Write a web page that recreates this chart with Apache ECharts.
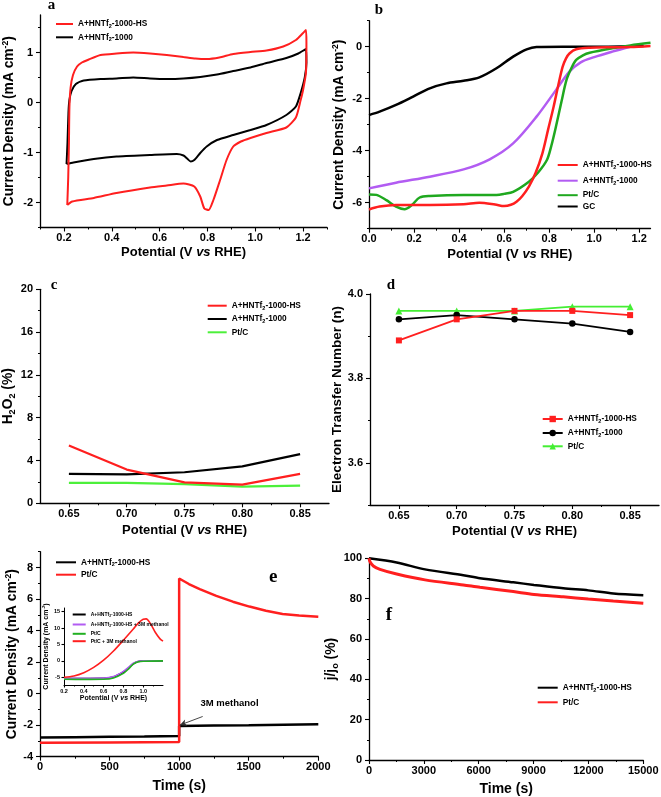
<!DOCTYPE html>
<html><head><meta charset="utf-8">
<script src="https://cdn.jsdelivr.net/npm/echarts@6/dist/echarts.min.js"></script>
<style>html,body{margin:0;padding:0;background:#fff}#c{width:661px;height:797px}</style>
</head><body><div id="c"></div>
<script>
// ---------------- DATA ----------------
// (a) cyclic voltammograms [potential, current density]
const cvHS = [[0.214,-2.05],[0.218,-1.5],[0.221,-0.8],[0.223,-0.1],[0.228,0.3],[0.238,0.55],[0.255,0.72],[0.275,0.8],[0.304,0.86],[0.353,0.95],[0.42,0.98],[0.49,1.0],[0.56,0.98],[0.63,0.95],[0.7,0.91],[0.75,0.88],[0.797,0.87],[0.85,0.9],[0.908,0.97],[0.98,1.01],[1.047,1.04],[1.117,1.12],[1.17,1.25],[1.2,1.39],[1.212,1.45],[1.214,1.2],[1.212,0.6],[1.2,0.25],[1.19,0.05],[1.17,-0.3],[1.13,-0.5],[1.047,-0.61],[0.98,-0.71],[0.94,-0.78],[0.908,-0.88],[0.88,-1.15],[0.853,-1.55],[0.825,-1.95],[0.805,-2.15],[0.787,-2.12],[0.77,-1.88],[0.745,-1.68],[0.7,-1.62],[0.63,-1.66],[0.56,-1.7],[0.42,-1.81],[0.325,-1.91],[0.235,-1.98],[0.214,-2.05]];
const cvN = [[0.211,-1.23],[0.215,-0.8],[0.219,-0.2],[0.223,0.05],[0.232,0.23],[0.25,0.37],[0.283,0.44],[0.353,0.47],[0.42,0.48],[0.49,0.5],[0.56,0.48],[0.63,0.47],[0.7,0.48],[0.77,0.51],[0.84,0.56],[0.908,0.63],[0.98,0.7],[1.047,0.79],[1.13,0.89],[1.18,0.98],[1.212,1.07],[1.214,0.8],[1.207,0.5],[1.19,0.19],[1.17,-0.08],[1.13,-0.25],[1.047,-0.45],[0.98,-0.55],[0.908,-0.65],[0.84,-0.75],[0.797,-0.88],[0.77,-1.01],[0.745,-1.15],[0.73,-1.18],[0.715,-1.12],[0.7,-1.06],[0.672,-1.03],[0.56,-1.05],[0.42,-1.08],[0.325,-1.13],[0.24,-1.2],[0.211,-1.23]];
// (b) LSV curves
const lsvHS = [[0,-6.26],[0.047,-6.15],[0.12,-6.09],[0.27,-6.09],[0.42,-6.06],[0.49,-6.0],[0.56,-6.07],[0.6,-6.13],[0.63,-6.08],[0.655,-5.96],[0.68,-5.75],[0.71,-5.38],[0.74,-4.85],[0.77,-4.1],[0.795,-3.2],[0.82,-2.3],[0.84,-1.5],[0.86,-0.77],[0.875,-0.45],[0.89,-0.26],[0.92,-0.1],[0.98,-0.04],[1.08,-0.02],[1.16,-0.01],[1.25,0.03]];
const lsvN = [[0,-5.45],[0.12,-5.23],[0.27,-5.0],[0.42,-4.72],[0.536,-4.33],[0.64,-3.72],[0.744,-2.69],[0.83,-1.67],[0.89,-0.96],[0.94,-0.6],[1.0,-0.4],[1.08,-0.19],[1.16,0.0]];
const lsvPt = [[0,-5.68],[0.033,-5.7],[0.077,-5.9],[0.12,-6.15],[0.158,-6.25],[0.19,-6.09],[0.225,-5.8],[0.27,-5.74],[0.42,-5.7],[0.566,-5.7],[0.6,-5.66],[0.64,-5.58],[0.71,-5.19],[0.75,-4.85],[0.79,-4.36],[0.81,-3.8],[0.83,-3.08],[0.855,-2.1],[0.877,-1.28],[0.9,-0.8],[0.92,-0.51],[0.95,-0.33],[0.98,-0.23],[1.08,-0.06],[1.16,0.05],[1.25,0.15]];
const lsvGC = [[0,-2.63],[0.047,-2.5],[0.12,-2.24],[0.196,-1.92],[0.27,-1.6],[0.344,-1.41],[0.42,-1.31],[0.49,-1.18],[0.566,-0.83],[0.64,-0.38],[0.7,-0.1],[0.744,-0.01],[0.86,0],[1.0,0.0],[1.22,0.03]];
// (c) H2O2 yield, (d) electron transfer number
const rrdePot = [0.65,0.70,0.75,0.80,0.85];
const h2o2HS = [5.4,3.15,1.95,1.75,2.75];
const h2o2N = [2.75,2.7,2.9,3.45,4.6];
const h2o2Pt = [1.9,1.9,1.8,1.55,1.65];
const nHS = [3.89,3.94,3.96,3.96,3.95];
const nN = [3.94,3.95,3.94,3.93,3.91];
const nPt = [3.96,3.96,3.96,3.97,3.97];
// (e) methanol tolerance chronoamperometry
const caHS = [[0,-2.78],[250,-2.76],[500,-2.74],[750,-2.72],[1000,-2.69],[1000,-2.06],[1250,-2.02],[1500,-2.0],[1750,-1.97],[2000,-1.94]];
const caPt = [[0,-3.12],[500,-3.1],[1000,-3.07],[1000,7.3],[1070,6.95],[1148,6.63],[1267,6.2],[1386,5.83],[1505,5.52],[1624,5.26],[1743,5.05],[1862,4.95],[2000,4.88]];
// (e) inset LSV
const insHS = [[0.2,-5.35],[0.4,-5.35],[0.6,-5.3],[0.7,-4.9],[0.8,-3.4],[0.85,-2.2],[0.9,-0.9],[0.95,-0.2],[1.0,0],[1.2,0]];
const insHSm = [[0.2,-5.3],[0.4,-5.3],[0.6,-5.25],[0.7,-4.8],[0.8,-3.2],[0.85,-2.0],[0.9,-0.7],[0.95,-0.1],[1.0,0.05],[1.2,0.05]];
const insPt = [[0.2,-5.6],[0.4,-5.65],[0.6,-5.6],[0.7,-5.2],[0.8,-3.8],[0.85,-2.5],[0.9,-1.0],[0.95,-0.3],[1.0,-0.1],[1.2,0]];
const insPtm = [[0.2,-5.0],[0.3,-4.6],[0.4,-3.6],[0.5,-2.0],[0.6,0.2],[0.7,3.0],[0.8,6.3],[0.9,9.7],[0.95,11.5],[1.0,12.7],[1.03,12.8],[1.07,11.5],[1.12,8.8],[1.17,6.7],[1.2,6.0]];
// (f) stability
const stabHS = [[0,100],[1513,97.9],[3062,94.5],[5158,91.6],[6069,90.1],[7892,88.1],[9022,86.8],[10625,85.1],[11992,84.1],[13359,82.6],[15000,81.7]];
const stabPt = [[0,100],[55,98.3],[237,96.2],[600,94.5],[1513,92.2],[3062,89.3],[5158,86.8],[6069,85.6],[7892,83.5],[9022,82.1],[10625,80.9],[11992,79.8],[13359,78.8],[15000,77.7]];

// tick labels
const aX = [0.2,0.4,0.6,0.8,1.0,1.2], aXm = [0.1,0.3,0.5,0.7,0.9,1.1,1.3];
const aY = [-2,-1,0,1], aYm = [-2.5,-1.5,-0.5,0.5,1.5];
const bX = [0,0.2,0.4,0.6,0.8,1.0,1.2], bXm = [0.1,0.3,0.5,0.7,0.9,1.1];
const bY = [-6,-4,-2,0], bYm = [-7,-5,-3,-1,1];
const cdX = [0.65,0.70,0.75,0.80,0.85], cdXm = [0.675,0.725,0.775,0.825];
const cY = [0,4,8,12,16,20], cYm = [2,6,10,14,18];
const dY = [3.6,3.8,4.0], dYm = [3.5,3.7,3.9];
const eX = [0,500,1000,1500,2000], eXm = [250,750,1250,1750];
const eY = [-4,-2,0,2,4,6,8], eYm = [-3,-1,1,3,5,7,9];
const iX = [0.2,0.4,0.6,0.8,1.0], iXm = [0.3,0.5,0.7,0.9,1.1];
const iY = [-5,0,5,10,15];
const fX = [0,3000,6000,9000,12000,15000], fXm = [1500,4500,7500,10500,13500];
const fY = [0,20,40,60,80,100], fYm = [10,30,50,70,90];

// legend / name texts
const HS = '{n|A+HNTf}{s|2}{n|-1000-HS}';
const N1 = '{n|A+HNTf}{s|2}{n|-1000}';
const LBL = {
  a1:HS, a2:N1, b1:HS, b2:N1, b3:'{n|Pt/C}', b4:'{n|GC}',
  c1:HS, c2:N1, c3:'{n|Pt/C}', d1:HS, d2:N1, d3:'{n|Pt/C}',
  e1:HS, e2:'{n|Pt/C}', f1:HS, f2:'{n|Pt/C}',
  i1:HS, i2:'{n|A+HNTf}{s|2}{n|-1000-HS + 3M methanol}', i3:'{n|Pt/C}', i4:'{n|Pt/C + 3M methanol}'
};

// ---------------- BUILD ----------------
const FONT = 'Liberation Sans, Arial, Helvetica, sans-serif';
const RED = '#ff1f1f', BLK = '#000000';
const grids = [], xAxes = [], yAxes = [], series = [], legends = [], graphics = [];

function rich(fs) {
  const base = {fontFamily:FONT, fontWeight:'bold', color:'#000'};
  return {
    n: Object.assign({}, base, {fontSize:fs, lineHeight:Math.round(fs*1.25)}),
    i: Object.assign({}, base, {fontSize:fs, fontStyle:'italic', lineHeight:Math.round(fs*1.25)}),
    s: Object.assign({}, base, {fontSize:fs*0.66, lineHeight:fs*0.66, verticalAlign:'bottom'}),
    p: Object.assign({}, base, {fontSize:fs*0.62, lineHeight:fs*0.62, verticalAlign:'top'})
  };
}
function addGrid(left, top, width, height) {
  grids.push({left, top, width, height, containLabel:false, outerBoundsMode:'none', show:false});
  return grids.length - 1;
}
function addAxis(arr, gi, isX, o) {
  const pos = isX ? 'bottom' : 'left';
  arr.push({
    type:'value', gridIndex:gi, min:o.min, max:o.max, position:pos,
    axisLine:{show:true, onZero:false, lineStyle:{color:'#000', width:o.lw || 1.3}},
    axisTick:{show:true, inside:false, length:o.tl || 4, customValues:o.major, lineStyle:{color:'#000', width:1.1}},
    axisLabel:{show:true, customValues:o.major, formatter:o.fmt, color:'#000', fontFamily:FONT, fontWeight:'bold', fontSize:o.fs || 11, margin:o.margin != null ? o.margin : (isX ? 5 : 7)},
    splitLine:{show:false},
    name:o.name, nameLocation:'middle', nameGap:o.gap,
    nameTextStyle:{fontFamily:FONT, fontWeight:'bold', fontSize:o.nfs || 13, color:'#000', rich:rich(o.nfs || 13)}
  });
  const idx = arr.length - 1;
  if (o.minor) {
    arr.push({
      type:'value', gridIndex:gi, min:o.min, max:o.max, position:pos,
      axisLine:{show:false, onZero:false},
      axisTick:{show:true, inside:false, length:o.mtl || 2, customValues:o.minor, lineStyle:{color:'#000', width:1}},
      axisLabel:{show:false}, splitLine:{show:false}
    });
  }
  return idx;
}
function addLine(name, xi, yi, data, color, width, extra) {
  series.push(Object.assign({
    type:'line', name, xAxisIndex:xi, yAxisIndex:yi, data,
    symbol:'none', showSymbol:false, smooth:false, animation:false, silent:true,
    lineStyle:{color, width}, itemStyle:{color}
  }, extra || {}));
}
function addLegend(name, left, cy, o) {
  const fs = o.fs || 8.3;
  const lh = Math.round(fs*1.25);
  const ih = o.ih || 8;
  const lg = {
    show:true, left, top: cy - Math.max(ih, lh)/2, padding:0, orient:'vertical',
    itemWidth:o.iw || 20, itemHeight:ih, itemGap:0, selectedMode:false,
    data:[name], formatter:(n) => LBL[n],
    textStyle:{fontFamily:FONT, fontWeight:'bold', fontSize:fs, color:'#000', rich:rich(fs)}
  };
  if (!o.sym) lg.itemStyle = {opacity:0};
  legends.push(lg);
}
function panelLabel(t, x, y, fs) {
  graphics.push({type:'text', x, y, silent:true, style:{text:t, font:'bold ' + fs + 'px "Liberation Serif", "Times New Roman", serif', fill:'#000', align:'center', verticalAlign:'middle'}});
}
const f1 = v => v.toFixed(1), f2 = v => v.toFixed(2), f0 = v => String(Math.round(v));
const POT = '{n|Potential (V }{i|vs}{n| RHE)}';
const CD = '{n|Current Density (mA cm}{p|-2}{n|)}';

// (a)
let g = addGrid(40, 15, 287, 212.5);
let xi = addAxis(xAxes, g, true, {min:0.1, max:1.3, major:aX, minor:aXm, fmt:f1, name:POT, gap:17});
let yi = addAxis(yAxes, g, false, {min:-2.5, max:1.75, major:aY, minor:aYm, fmt:f0, name:CD, gap:22, nfs:13.8});
addLine('a2', xi, yi, cvN, BLK, 2, {smooth:0.2});
addLine('a1', xi, yi, cvHS, RED, 2, {smooth:0.2});
addLegend('a1', 55, 25, {iw:17});
addLegend('a2', 55, 38.3, {iw:17});
panelLabel('a', 51.5, 5, 15);

// (b)
g = addGrid(369, 20.7, 281.5, 208);
xi = addAxis(xAxes, g, true, {min:0, max:1.25, major:bX, minor:bXm, fmt:f1, name:POT, gap:18});
yi = addAxis(yAxes, g, false, {min:-7, max:1, major:bY, minor:bYm, fmt:f0, name:CD, gap:21, nfs:13.8});
addLine('b4', xi, yi, lsvGC, BLK, 2.5, {smooth:0.3});
addLine('b2', xi, yi, lsvN, '#b25cf2', 2.5, {smooth:0.3});
addLine('b3', xi, yi, lsvPt, '#1fa81f', 2.5, {smooth:0.3});
addLine('b1', xi, yi, lsvHS, RED, 2.5, {smooth:0.3});
addLegend('b1', 556.7, 166, {});
addLegend('b2', 556.7, 181.7, {});
addLegend('b3', 556.7, 196.2, {});
addLegend('b4', 556.7, 207.5, {});
panelLabel('b', 379, 9.9, 15);

// (c)
const cPts = a => rrdePot.map((x, k) => [x, a[k]]);
g = addGrid(40, 289.3, 289, 214);
xi = addAxis(xAxes, g, true, {min:0.625, max:0.875, major:cdX, minor:cdXm, fmt:f2, name:POT, gap:19.5});
yi = addAxis(yAxes, g, false, {min:0, max:20, major:cY, minor:cYm, fmt:f0, name:'{n|H}{s|2}{n|O}{s|2}{n| (%)}', gap:22, nfs:13.8});
addLine('c3', xi, yi, cPts(h2o2Pt), '#4cf03a', 2.2);
addLine('c2', xi, yi, cPts(h2o2N), BLK, 2.2);
addLine('c1', xi, yi, cPts(h2o2HS), RED, 2.2);
addLegend('c1', 206.7, 306.7, {iw:19});
addLegend('c2', 206.7, 320, {iw:19});
addLegend('c3', 206.7, 333.3, {iw:19});
panelLabel('c', 54, 285.6, 15);

// (d)
g = addGrid(370, 294, 289, 211);
xi = addAxis(xAxes, g, true, {min:0.625, max:0.875, major:cdX, minor:cdXm, fmt:f2, name:POT, gap:18});
yi = addAxis(yAxes, g, false, {min:3.5, max:4.0, major:dY, minor:dYm, fmt:f1, name:'{n|Electron Transfer Number (n)}', gap:22, nfs:13.5});
addLine('d3', xi, yi, cPts(nPt), '#44ee33', 1.8, {symbol:'triangle', showSymbol:true, symbolSize:7});
addLine('d2', xi, yi, cPts(nN), BLK, 1.8, {symbol:'circle', showSymbol:true, symbolSize:6.5});
addLine('d1', xi, yi, cPts(nHS), RED, 1.8, {symbol:'rect', showSymbol:true, symbolSize:6});
addLegend('d1', 541.7, 420, {sym:true});
addLegend('d2', 541.7, 434, {sym:true});
addLegend('d3', 541.7, 447.3, {sym:true});
panelLabel('d', 391, 285.6, 15);

// (e)
g = addGrid(40, 551.7, 278.3, 205);
xi = addAxis(xAxes, g, true, {min:0, max:2000, major:eX, minor:eXm, fmt:f0, name:'{n|Time (s)}', gap:20, nfs:14});
yi = addAxis(yAxes, g, false, {min:-4, max:9, major:eY, minor:eYm, fmt:f0, name:CD, gap:19, nfs:13.8});
addLine('e1', xi, yi, caHS, BLK, 2.5, {
  markLine:{silent:true, animation:false, symbol:['none','arrow'], symbolSize:[5,7], label:{show:false},
    lineStyle:{color:'#333', width:0.9, type:'solid'}, data:[[{coord:[1169,-1.45]},{coord:[1004,-2.0]}]]}
});
addLine('e2', xi, yi, caPt, RED, 2.5);
addLegend('e1', 55, 563.3, {});
addLegend('e2', 55, 575.7, {});
panelLabel('e', 273.3, 576.9, 19);
graphics.push({type:'text', x:229.5, y:703.3, silent:true, style:{text:'3M methanol', font:'bold 9.5px ' + FONT, fill:'#000', align:'center', verticalAlign:'middle'}});

// (e) inset
g = addGrid(64, 608, 99, 77);
xi = addAxis(xAxes, g, true, {min:0.2, max:1.2, major:iX, minor:iXm, fmt:f1, name:POT, gap:9, nfs:7, fs:5.5, tl:2.5, mtl:1.5, lw:1, margin:3});
yi = addAxis(yAxes, g, false, {min:-7.35, max:16.1, major:iY, fmt:f0, name:CD, gap:11, nfs:7, fs:5.5, tl:2.5, lw:1, margin:4});
addLine('i1', xi, yi, insHS, BLK, 1.6, {smooth:0.3});
addLine('i2', xi, yi, insHSm, '#b25cf2', 1.6, {smooth:0.3});
addLine('i3', xi, yi, insPt, '#22b022', 1.6, {smooth:0.3});
addLine('i4', xi, yi, insPtm, RED, 1.6, {smooth:0.3});
addLegend('i1', 71.7, 615, {fs:5, iw:13, ih:5});
addLegend('i2', 71.7, 625, {fs:5, iw:13, ih:5});
addLegend('i3', 71.7, 634.3, {fs:5, iw:13, ih:5});
addLegend('i4', 71.7, 641.7, {fs:5, iw:13, ih:5});

// (f)
g = addGrid(369, 558.3, 274.3, 201.7);
xi = addAxis(xAxes, g, true, {min:0, max:15000, major:fX, minor:fXm, fmt:f0, name:'{n|Time (s)}', gap:20, nfs:14});
yi = addAxis(yAxes, g, false, {min:0, max:100, major:fY, minor:fYm, fmt:f0, name:'{n|j/j}{s|o}{n| (%)}', gap:22, nfs:13.8});
addLine('f1', xi, yi, stabHS, BLK, 2.5, {smooth:0.3});
addLine('f2', xi, yi, stabPt, RED, 3, {smooth:0.3});
addLegend('f1', 536.7, 688.7, {});
addLegend('f2', 536.7, 703.3, {});
panelLabel('f', 389, 615.3, 19);

const chart = echarts.init(document.getElementById('c'), null, {renderer:'canvas', width:661, height:797});
chart.setOption({
  backgroundColor:'#fff', animation:false,
  grid:grids, xAxis:xAxes, yAxis:yAxes, series, legend:legends, graphic:graphics
});
</script></body></html>
